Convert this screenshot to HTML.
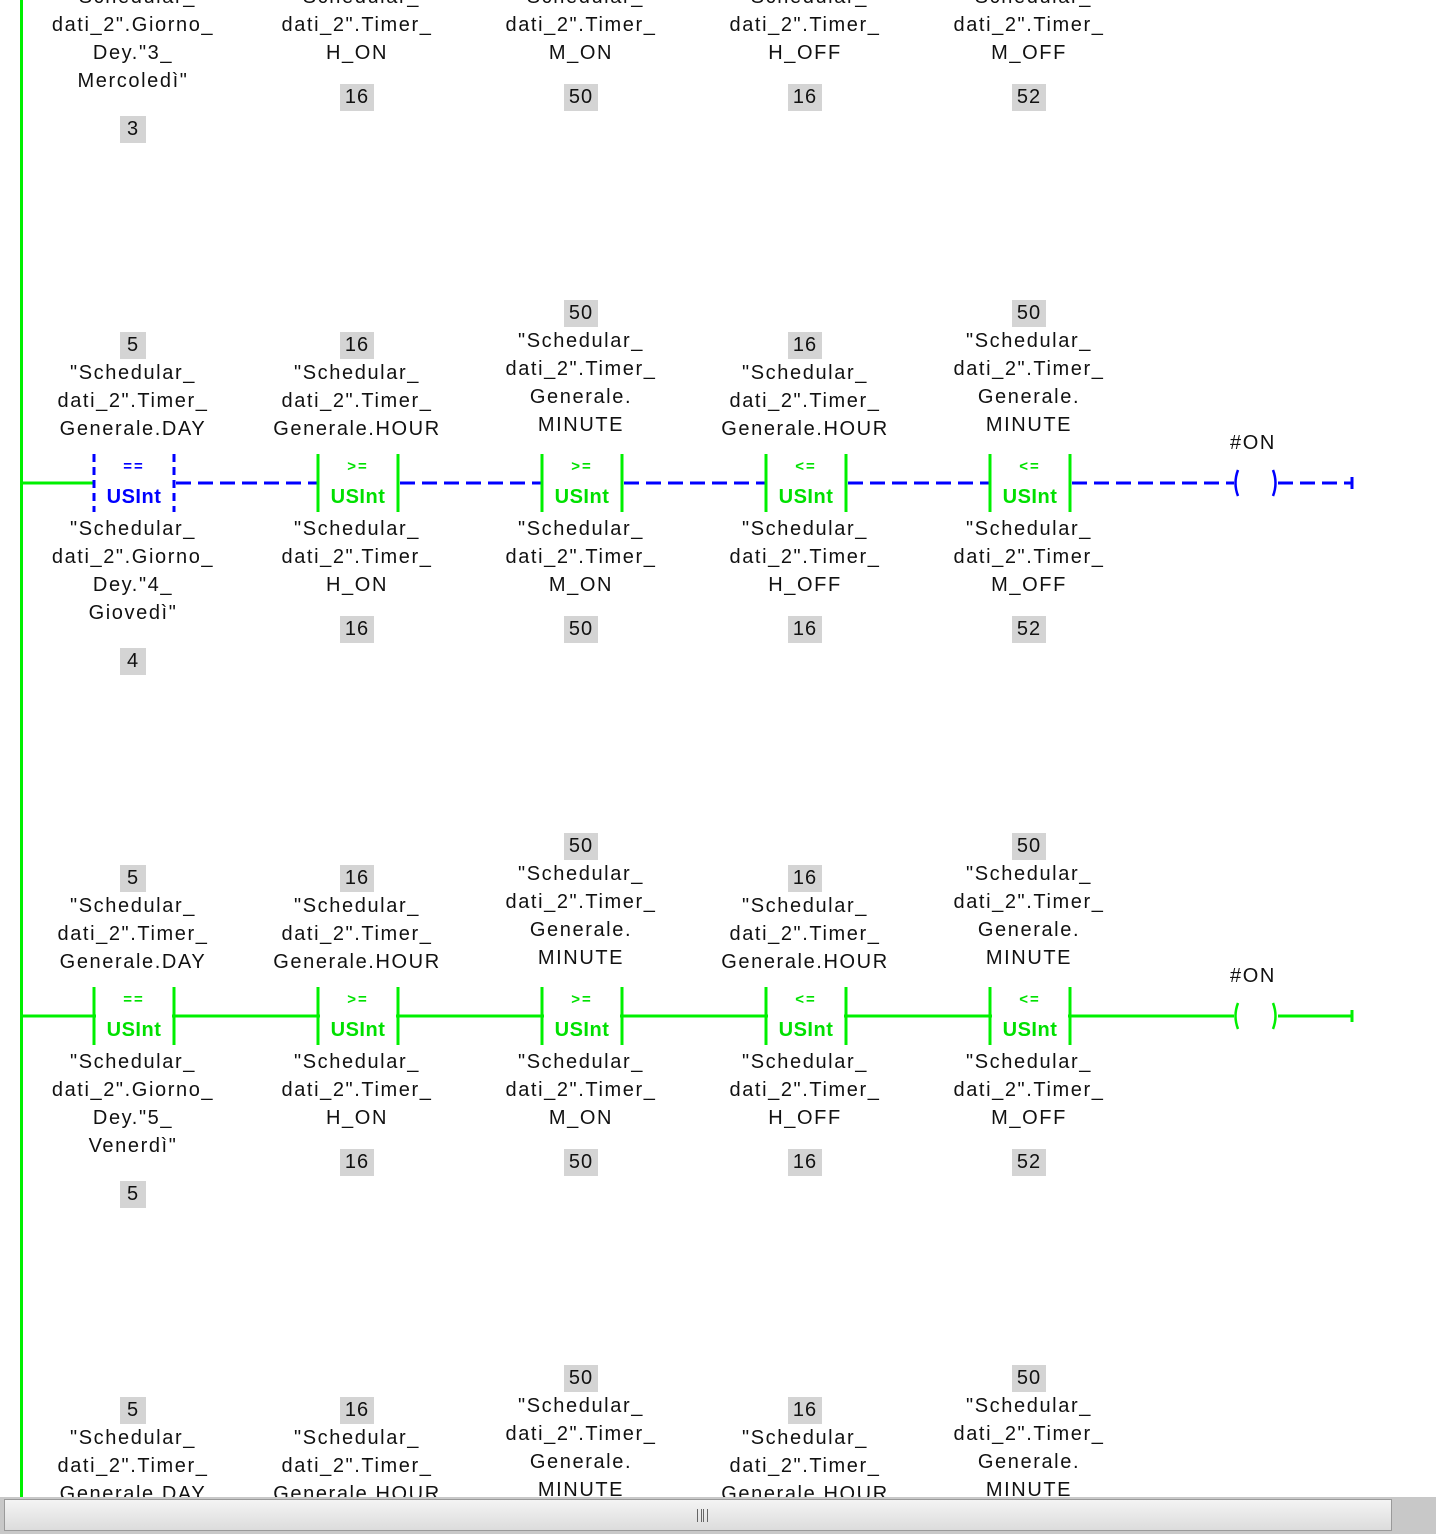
<!DOCTYPE html>
<html><head><meta charset="utf-8"><style>
body{margin:0;width:1436px;height:1534px;overflow:hidden;background:#fff;position:relative;font-family:"Liberation Sans",sans-serif}
.t{position:absolute;width:240px;text-align:center;font-size:20px;line-height:28px;color:#111;letter-spacing:1.6px}
.n{position:absolute;width:240px;text-align:center;font-size:20px;line-height:27px;color:#111;letter-spacing:1px}
.n span{display:inline-block;background:#d4d4d4;padding:0 5px;min-width:16px}
.op{position:absolute;width:80px;text-align:center;font-size:15px;line-height:16px;font-weight:bold;letter-spacing:2px}
.ut{position:absolute;width:80px;text-align:center;font-size:20px;line-height:24px;font-weight:bold;letter-spacing:0.5px}
svg{position:absolute;left:0;top:0}
.sb{position:absolute;left:0;top:1497px;width:1436px;height:37px;background:#c8c8c8}
.sbi{position:absolute;left:4px;top:2px;width:1386px;height:30px;border:1px solid #9a9a9a;background:linear-gradient(#f4f4f4,#dcdcdc)}
.g{color:#00e000}.b{color:#0000ff}
</style></head><body>
<svg width="1436" height="1534">
<rect x="20" y="0" width="3" height="1497" fill="#00f000"/>
<g stroke-width="3">
<line x1="22" y1="483" x2="94" y2="483" stroke="#00f000"/>
<line x1="94" y1="454" x2="94" y2="512" stroke="#0000ff" stroke-dasharray="8,5"/>
<line x1="174" y1="454" x2="174" y2="512" stroke="#0000ff" stroke-dasharray="8,5"/>
<g stroke="#0000ff" stroke-dasharray="15,7">
<line x1="176" y1="483" x2="318" y2="483"/>
<line x1="400" y1="483" x2="542" y2="483"/>
<line x1="624" y1="483" x2="766" y2="483"/>
<line x1="848" y1="483" x2="990" y2="483"/>
<line x1="1072" y1="483" x2="1234" y2="483"/>
<line x1="1278" y1="483" x2="1352" y2="483"/>
</g>
<line x1="1352" y1="477" x2="1352" y2="489" stroke="#0000ff"/>
<g stroke="#00f000">
<line x1="318" y1="454" x2="318" y2="512"/><line x1="398" y1="454" x2="398" y2="512"/>
<line x1="542" y1="454" x2="542" y2="512"/><line x1="622" y1="454" x2="622" y2="512"/>
<line x1="766" y1="454" x2="766" y2="512"/><line x1="846" y1="454" x2="846" y2="512"/>
<line x1="990" y1="454" x2="990" y2="512"/><line x1="1070" y1="454" x2="1070" y2="512"/>
</g>
<path d="M1238 470 Q1233 483 1238 496" fill="none" stroke="#0000ff" stroke-width="2.5"/>
<path d="M1273 470 Q1278 483 1273 496" fill="none" stroke="#0000ff" stroke-width="2.5"/>
</g>
<g stroke-width="3" stroke="#00f000" fill="none">
<line x1="22" y1="1016" x2="1234" y2="1016"/>
<line x1="1278" y1="1016" x2="1352" y2="1016"/>
<line x1="1352" y1="1010" x2="1352" y2="1022"/>
<line x1="94" y1="987" x2="94" y2="1045"/><line x1="174" y1="987" x2="174" y2="1045"/>
<line x1="318" y1="987" x2="318" y2="1045"/><line x1="398" y1="987" x2="398" y2="1045"/>
<line x1="542" y1="987" x2="542" y2="1045"/><line x1="622" y1="987" x2="622" y2="1045"/>
<line x1="766" y1="987" x2="766" y2="1045"/><line x1="846" y1="987" x2="846" y2="1045"/>
<line x1="990" y1="987" x2="990" y2="1045"/><line x1="1070" y1="987" x2="1070" y2="1045"/>
<path d="M1238 1003 Q1233 1016 1238 1029" stroke-width="2.5"/>
<path d="M1273 1003 Q1278 1016 1273 1029" stroke-width="2.5"/>
</g>
<rect x="96" y="990" width="76" height="52" fill="#fff"/><rect x="320" y="990" width="76" height="52" fill="#fff"/><rect x="544" y="990" width="76" height="52" fill="#fff"/><rect x="768" y="990" width="76" height="52" fill="#fff"/><rect x="992" y="990" width="76" height="52" fill="#fff"/><rect x="1240" y="1005" width="32" height="22" fill="#fff"/>
</svg>

<div class="t" style="left:13px;top:-17px">"Schedular_<br>dati_2".Giorno_<br>Dey."3_<br>Mercoledì"</div>
<div class="n" style="left:13px;top:116px"><span>3</span></div>
<div class="t" style="left:237px;top:-17px">"Schedular_<br>dati_2".Timer_<br>H_ON</div>
<div class="n" style="left:237px;top:84px"><span>16</span></div>
<div class="t" style="left:461px;top:-17px">"Schedular_<br>dati_2".Timer_<br>M_ON</div>
<div class="n" style="left:461px;top:84px"><span>50</span></div>
<div class="t" style="left:685px;top:-17px">"Schedular_<br>dati_2".Timer_<br>H_OFF</div>
<div class="n" style="left:685px;top:84px"><span>16</span></div>
<div class="t" style="left:909px;top:-17px">"Schedular_<br>dati_2".Timer_<br>M_OFF</div>
<div class="n" style="left:909px;top:84px"><span>52</span></div>

<div class="n" style="left:13px;top:332px"><span>5</span></div>
<div class="t" style="left:13px;top:359px">"Schedular_<br>dati_2".Timer_<br>Generale.DAY</div>
<div class="n" style="left:237px;top:332px"><span>16</span></div>
<div class="t" style="left:237px;top:359px">"Schedular_<br>dati_2".Timer_<br>Generale.HOUR</div>
<div class="n" style="left:461px;top:300px"><span>50</span></div>
<div class="t" style="left:461px;top:327px">"Schedular_<br>dati_2".Timer_<br>Generale.<br>MINUTE</div>
<div class="n" style="left:685px;top:332px"><span>16</span></div>
<div class="t" style="left:685px;top:359px">"Schedular_<br>dati_2".Timer_<br>Generale.HOUR</div>
<div class="n" style="left:909px;top:300px"><span>50</span></div>
<div class="t" style="left:909px;top:327px">"Schedular_<br>dati_2".Timer_<br>Generale.<br>MINUTE</div>
<div class="op b" style="left:94px;top:459px">==</div><div class="ut b" style="left:94px;top:485px">USInt</div>
<div class="op g" style="left:318px;top:459px">&gt;=</div><div class="ut g" style="left:318px;top:485px">USInt</div>
<div class="op g" style="left:542px;top:459px">&gt;=</div><div class="ut g" style="left:542px;top:485px">USInt</div>
<div class="op g" style="left:766px;top:459px">&lt;=</div><div class="ut g" style="left:766px;top:485px">USInt</div>
<div class="op g" style="left:990px;top:459px">&lt;=</div><div class="ut g" style="left:990px;top:485px">USInt</div>
<div class="t" style="left:1133px;top:429px">#ON</div>
<div class="t" style="left:13px;top:515px">"Schedular_<br>dati_2".Giorno_<br>Dey."4_<br>Giovedì"</div>
<div class="n" style="left:13px;top:648px"><span>4</span></div>
<div class="t" style="left:237px;top:515px">"Schedular_<br>dati_2".Timer_<br>H_ON</div>
<div class="n" style="left:237px;top:616px"><span>16</span></div>
<div class="t" style="left:461px;top:515px">"Schedular_<br>dati_2".Timer_<br>M_ON</div>
<div class="n" style="left:461px;top:616px"><span>50</span></div>
<div class="t" style="left:685px;top:515px">"Schedular_<br>dati_2".Timer_<br>H_OFF</div>
<div class="n" style="left:685px;top:616px"><span>16</span></div>
<div class="t" style="left:909px;top:515px">"Schedular_<br>dati_2".Timer_<br>M_OFF</div>
<div class="n" style="left:909px;top:616px"><span>52</span></div>

<div class="n" style="left:13px;top:865px"><span>5</span></div>
<div class="t" style="left:13px;top:892px">"Schedular_<br>dati_2".Timer_<br>Generale.DAY</div>
<div class="n" style="left:237px;top:865px"><span>16</span></div>
<div class="t" style="left:237px;top:892px">"Schedular_<br>dati_2".Timer_<br>Generale.HOUR</div>
<div class="n" style="left:461px;top:833px"><span>50</span></div>
<div class="t" style="left:461px;top:860px">"Schedular_<br>dati_2".Timer_<br>Generale.<br>MINUTE</div>
<div class="n" style="left:685px;top:865px"><span>16</span></div>
<div class="t" style="left:685px;top:892px">"Schedular_<br>dati_2".Timer_<br>Generale.HOUR</div>
<div class="n" style="left:909px;top:833px"><span>50</span></div>
<div class="t" style="left:909px;top:860px">"Schedular_<br>dati_2".Timer_<br>Generale.<br>MINUTE</div>
<div class="op g" style="left:94px;top:992px">==</div><div class="ut g" style="left:94px;top:1018px">USInt</div>
<div class="op g" style="left:318px;top:992px">&gt;=</div><div class="ut g" style="left:318px;top:1018px">USInt</div>
<div class="op g" style="left:542px;top:992px">&gt;=</div><div class="ut g" style="left:542px;top:1018px">USInt</div>
<div class="op g" style="left:766px;top:992px">&lt;=</div><div class="ut g" style="left:766px;top:1018px">USInt</div>
<div class="op g" style="left:990px;top:992px">&lt;=</div><div class="ut g" style="left:990px;top:1018px">USInt</div>
<div class="t" style="left:1133px;top:962px">#ON</div>
<div class="t" style="left:13px;top:1048px">"Schedular_<br>dati_2".Giorno_<br>Dey."5_<br>Venerdì"</div>
<div class="n" style="left:13px;top:1181px"><span>5</span></div>
<div class="t" style="left:237px;top:1048px">"Schedular_<br>dati_2".Timer_<br>H_ON</div>
<div class="n" style="left:237px;top:1149px"><span>16</span></div>
<div class="t" style="left:461px;top:1048px">"Schedular_<br>dati_2".Timer_<br>M_ON</div>
<div class="n" style="left:461px;top:1149px"><span>50</span></div>
<div class="t" style="left:685px;top:1048px">"Schedular_<br>dati_2".Timer_<br>H_OFF</div>
<div class="n" style="left:685px;top:1149px"><span>16</span></div>
<div class="t" style="left:909px;top:1048px">"Schedular_<br>dati_2".Timer_<br>M_OFF</div>
<div class="n" style="left:909px;top:1149px"><span>52</span></div>

<div class="n" style="left:13px;top:1397px"><span>5</span></div>
<div class="t" style="left:13px;top:1424px">"Schedular_<br>dati_2".Timer_<br>Generale.DAY</div>
<div class="n" style="left:237px;top:1397px"><span>16</span></div>
<div class="t" style="left:237px;top:1424px">"Schedular_<br>dati_2".Timer_<br>Generale.HOUR</div>
<div class="n" style="left:461px;top:1365px"><span>50</span></div>
<div class="t" style="left:461px;top:1392px">"Schedular_<br>dati_2".Timer_<br>Generale.<br>MINUTE</div>
<div class="n" style="left:685px;top:1397px"><span>16</span></div>
<div class="t" style="left:685px;top:1424px">"Schedular_<br>dati_2".Timer_<br>Generale.HOUR</div>
<div class="n" style="left:909px;top:1365px"><span>50</span></div>
<div class="t" style="left:909px;top:1392px">"Schedular_<br>dati_2".Timer_<br>Generale.<br>MINUTE</div>

<div class="sb"><div class="sbi"><div style="position:absolute;left:692px;top:9px;width:9px;height:13px;border-left:1px solid #666;border-right:1px solid #666"><div style="position:absolute;left:3px;top:0;width:1px;height:13px;background:#666"></div><div style="position:absolute;left:5px;top:0;width:1px;height:13px;background:#666"></div></div></div></div>
</body></html>
